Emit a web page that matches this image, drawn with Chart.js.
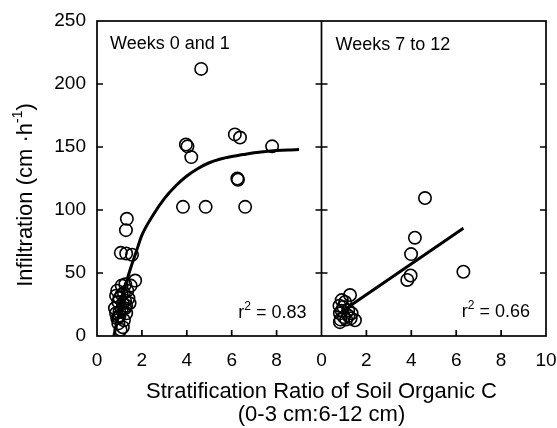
<!DOCTYPE html>
<html>
<head>
<meta charset="utf-8">
<script src="https://cdn.jsdelivr.net/npm/chart.js@4"></script>
<style>
  html,body{margin:0;padding:0;background:#fff;}
  #wrap{position:relative;width:557px;height:428px;}
</style>
</head>
<body>
<div id="wrap"><canvas id="c" width="557" height="428"></canvas></div>
<script>
// ---- data ----
// Left panel: Weeks 0 and 1
const leftX = [4.64, 6.14, 6.37, 7.80, 3.96, 4.03, 4.20, 6.25, 6.28, 3.83, 4.84, 6.60,
               1.33, 1.29, 1.06, 1.30, 1.56, 1.70, 1.26, 1.10, 1.50,
               1.35, 1.20, 0.85, 1.00, 0.95, 1.45, 1.30, 0.80, 1.10, 0.85, 1.30, 1.00, 0.90, 1.20, 0.95, 1.15, 1.05, 1.40, 1.25,
               0.90, 1.15, 1.00, 1.25, 0.95, 1.10];
const leftY = [212, 160, 157.5, 150.5, 152, 150.5, 142, 125, 124, 102.5, 102.5, 102.5,
               93, 84, 66, 65.5, 64.5, 44, 41, 40, 40,
               36, 34, 32, 30, 27, 26, 24, 22, 21, 18, 18, 16, 14, 12.5, 10, 7, 5, 30, 28,
               36, 26, 19, 22, 15, 33];
// Right panel: Weeks 7 to 12
const rightX = [4.61, 4.16, 3.99, 3.97, 3.82, 6.32, 1.27, 0.90, 0.97, 0.80, 0.82, 1.34, 1.19, 0.82, 1.49, 1.10, 1.00, 1.30, 0.85,
                1.05, 1.20, 0.90];
const rightY = [109.5, 78, 65, 48, 44.5, 51, 32.5, 28.5, 23, 24, 18, 18, 20.5, 11, 12.5, 13, 15, 14, 13,
                27, 16, 20];
// fitted curve (left) and regression line (right)
const leftFitX = [0.75, 1.0, 1.25, 1.5, 1.75, 2.0, 2.5, 3.0, 3.5, 4.0, 4.5, 5.0, 5.5, 6.0, 6.5, 7.0, 7.5, 8.0, 8.5, 9.0];
const leftFitY = [0, 20, 39, 54, 67, 80, 96, 109, 119, 127, 133, 137.5, 140.5, 142.5, 144, 145.5, 146.5, 147.2, 147.7, 148];
const rightFitX = [1.0, 6.32];
const rightFitY = [20.7, 85.6];
// ticks and labels
const yTicks = [0, 50, 100, 150, 200, 250];
const yTickMarks = [50, 100, 150, 200];
const xTicks = [0, 2, 4, 6, 8, 10, 12, 14, 16, 18, 20];
const xTickMarks = [2, 4, 6, 8, 12, 14, 16, 18];
const panelTitles = ["Weeks 0 and 1", "Weeks 7 to 12"];
const rSquared = ["0.83", "0.66"];
const xTitle = ["Stratification Ratio of Soil Organic C", "(0-3 cm:6-12 cm)"];
const PANEL_OFFSET = 10; // right panel drawn on the same x scale, shifted by one panel width

const FONT = "'Liberation Sans', Arial, sans-serif";
Chart.defaults.font.family = FONT;
Chart.defaults.color = '#000';

const pts = (xs, ys, off) => xs.map((v, i) => ({x: v + off, y: ys[i]}));

const scatterStyle = {
  showLine: false, pointStyle: 'circle', pointRadius: 6.2, pointHoverRadius: 6.2,
  borderColor: '#000', backgroundColor: 'rgba(0,0,0,0)', pointBorderWidth: 1.6
};
const lineStyle = {
  showLine: true, pointRadius: 0, borderColor: '#000', borderWidth: 3,
  cubicInterpolationMode: 'monotone', fill: false
};

const panelPlugin = {
  id: 'panelPlugin',
  afterDraw(chart) {
    const {ctx, chartArea: ca, scales: {x, y}} = chart;
    ctx.save();
    ctx.strokeStyle = '#000';
    ctx.lineWidth = 1.7;
    ctx.strokeRect(ca.left, ca.top, ca.right - ca.left, ca.bottom - ca.top);
    const xd = x.getPixelForValue(PANEL_OFFSET);
    ctx.beginPath();
    ctx.moveTo(xd, ca.top); ctx.lineTo(xd, ca.bottom);
    const tl = 6;
    yTickMarks.forEach(v => {
      const py = y.getPixelForValue(v);
      ctx.moveTo(ca.left, py); ctx.lineTo(ca.left + tl, py);
      ctx.moveTo(xd - tl, py); ctx.lineTo(xd + tl, py);
      ctx.moveTo(ca.right - tl, py); ctx.lineTo(ca.right, py);
    });
    xTickMarks.forEach(v => {
      const px = x.getPixelForValue(v);
      ctx.moveTo(px, ca.bottom); ctx.lineTo(px, ca.bottom - tl);
    });
    ctx.stroke();

    // panel titles
    ctx.fillStyle = '#000';
    ctx.textBaseline = 'alphabetic';
    ctx.textAlign = 'left';
    ctx.font = '18px ' + FONT;
    ctx.fillText(panelTitles[0], x.getPixelForValue(0) + 13, 49);
    ctx.fillText(panelTitles[1], x.getPixelForValue(PANEL_OFFSET) + 14, 50);

    // r^2 labels (right aligned)
    const drawR2 = (val, right, base) => {
      ctx.font = '18px ' + FONT;
      const rest = ' = ' + val;
      const wRest = ctx.measureText(rest).width;
      ctx.font = '12px ' + FONT;
      const w2 = ctx.measureText('2').width;
      ctx.font = '18px ' + FONT;
      const wr = ctx.measureText('r').width;
      let sx = right - wRest - w2 - wr;
      ctx.textAlign = 'left';
      ctx.fillText('r', sx, base);
      ctx.font = '12px ' + FONT;
      ctx.fillText('2', sx + wr, base - 8);
      ctx.font = '18px ' + FONT;
      ctx.fillText(rest, sx + wr + w2, base);
    };
    drawR2(rSquared[0], x.getPixelForValue(PANEL_OFFSET) - 15, 318);
    drawR2(rSquared[1], ca.right - 16, 317);

    // x-axis title
    ctx.textAlign = 'center';
    ctx.font = '22px ' + FONT;
    const cx = x.getPixelForValue(PANEL_OFFSET);
    ctx.fillText(xTitle[0], cx, 398);
    ctx.fillText(xTitle[1], cx, 421);

    // y-axis title (rotated)
    ctx.translate(32, 195);
    ctx.rotate(-Math.PI / 2);
    const partA = 'Infiltration (cm ';
    const partB = '\u00B7h';
    const sup = '-1';
    const partC = ')';
    ctx.font = '22px ' + FONT;
    const wA = ctx.measureText(partA).width;
    const wB = ctx.measureText(partB).width;
    const wC = ctx.measureText(partC).width;
    ctx.font = '14px ' + FONT;
    const wS = ctx.measureText(sup).width;
    let sx = -(wA + wB + wS + wC) / 2;
    ctx.textAlign = 'left';
    ctx.font = '22px ' + FONT;
    ctx.fillText(partA, sx, 0);
    ctx.fillText(partB, sx + wA, 0);
    ctx.font = '14px ' + FONT;
    ctx.fillText(sup, sx + wA + wB, -10);
    ctx.font = '22px ' + FONT;
    ctx.fillText(partC, sx + wA + wB + wS, 0);
    ctx.restore();
  }
};

new Chart(document.getElementById('c'), {
  type: 'scatter',
  data: {
    datasets: [
      Object.assign({label: 'Weeks 0 and 1', data: pts(leftX, leftY, 0)}, scatterStyle),
      Object.assign({label: 'Weeks 7 to 12', data: pts(rightX, rightY, PANEL_OFFSET)}, scatterStyle),
      Object.assign({label: 'fit 0-1', data: pts(leftFitX, leftFitY, 0)}, lineStyle),
      Object.assign({label: 'fit 7-12', data: pts(rightFitX, rightFitY, PANEL_OFFSET)}, lineStyle)
    ]
  },
  options: {
    responsive: false,
    animation: false,
    events: [],
    layout: {padding: {left: 0, top: 21, right: 11, bottom: 0}},
    plugins: {legend: {display: false}, tooltip: {enabled: false}},
    scales: {
      x: {
        type: 'linear', min: 0, max: 2 * PANEL_OFFSET,
        afterFit(s) { s.height = 92; s.paddingLeft = 0; s.paddingRight = 0; },
        afterBuildTicks(s) { s.ticks = xTicks.map(v => ({value: v})); },
        grid: {display: false, drawTicks: false},
        border: {display: false},
        ticks: {
          font: {size: 19}, color: '#000', padding: 13, maxRotation: 0, autoSkip: false,
          callback: v => (v > PANEL_OFFSET ? v - PANEL_OFFSET : (v === PANEL_OFFSET ? 0 : v))
        }
      },
      y: {
        type: 'linear', min: 0, max: 250,
        afterFit(s) { s.width = 97; s.paddingTop = 0; s.paddingBottom = 0; },
        afterBuildTicks(s) { s.ticks = yTicks.map(v => ({value: v})); },
        grid: {display: false, drawTicks: false},
        border: {display: false},
        ticks: {font: {size: 19}, color: '#000', padding: 11}
      }
    }
  },
  plugins: [panelPlugin]
});
</script>
</body>
</html>
